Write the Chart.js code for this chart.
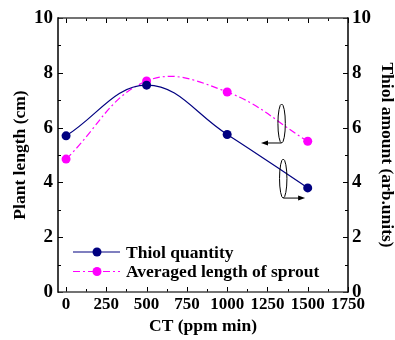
<!DOCTYPE html>
<html><head><meta charset="utf-8">
<script src="https://cdn.jsdelivr.net/npm/chart.js@4"></script>
<style>html,body{margin:0;padding:0;background:#fff}</style>
</head><body>
<canvas id="c" width="395" height="340" style="width:395px;height:340px;display:block"></canvas>
<script>
const categories = [0, 500, 1000, 1500];
const thiolQuantity = [5.7, 7.55, 5.75, 3.8];
const sproutLength = [4.85, 7.7, 7.3, 5.5];
const xTickLabels = [0, 250, 500, 750, 1000, 1250, 1500, 1750];
const yTickLabels = [0, 2, 4, 6, 8, 10];
const seriesNames = ['Thiol quantity', 'Averaged length of sprout'];

const FONT = '"Liberation Serif", "Times New Roman", serif';
const NAVY = '#000080', MAG = '#ff00ff';
const DASH = [7, 3, 2, 3];

const framePlugin = {
  id: 'frame',
  beforeDatasetsDraw(chart) {
    const {ctx, chartArea: a, scales} = chart;
    ctx.save();
    ctx.strokeStyle = '#000';
    ctx.lineWidth = 1;
    const xs = scales.x, ys = scales.y;
    const tick = (x1, y1, x2, y2) => { ctx.beginPath(); ctx.moveTo(x1, y1); ctx.lineTo(x2, y2); ctx.stroke(); };
    xTickLabels.forEach((v, i) => {
      const px = Math.round(xs.getPixelForValue(v)) + 0.5;
      tick(px, a.bottom, px, a.bottom - 5);
      tick(px, a.top, px, a.top + 5);
      if (i < xTickLabels.length - 1) {
        const m = Math.round(xs.getPixelForValue((v + xTickLabels[i + 1]) / 2)) + 0.5;
        tick(m, a.bottom, m, a.bottom - 3);
        tick(m, a.top, m, a.top + 3);
      }
    });
    yTickLabels.forEach((v, i) => {
      const py = Math.round(ys.getPixelForValue(v)) + 0.5;
      tick(a.left, py, a.left + 5, py);
      tick(a.right, py, a.right - 5, py);
      if (i < yTickLabels.length - 1) {
        const m = Math.round(ys.getPixelForValue((v + yTickLabels[i + 1]) / 2)) + 0.5;
        tick(a.left, m, a.left + 3, m);
        tick(a.right, m, a.right - 3, m);
      }
    });
    ctx.lineWidth = 1.5;
    ctx.strokeStyle = '#444';
    tick(a.left, a.top, a.right, a.top);
    tick(a.left, a.bottom, a.right, a.bottom);
    ctx.strokeStyle = '#000';
    tick(a.left, a.top - 0.75, a.left, a.bottom + 0.75);
    tick(a.right, a.top - 0.75, a.right, a.bottom + 0.75);
    ctx.restore();
  },
  afterDraw(chart) {
    const {ctx, scales} = chart;
    const xs = scales.x, ys = scales.y;
    ctx.save();
    const rows = [252, 271.5];
    chart.data.datasets.forEach((ds, i) => {
      const y = rows[i];
      ctx.strokeStyle = ds.borderColor;
      ctx.lineWidth = 1.2;
      ctx.setLineDash(ds.borderDash || []);
      ctx.beginPath(); ctx.moveTo(73, y); ctx.lineTo(120, y); ctx.stroke();
      ctx.setLineDash([]);
      ctx.fillStyle = ds.backgroundColor;
      ctx.beginPath(); ctx.arc(97, y, 4.5, 0, Math.PI * 2); ctx.fill();
      ctx.fillStyle = '#000';
      ctx.font = 'bold 17.5px ' + FONT;
      ctx.textBaseline = 'alphabetic';
      ctx.textAlign = 'left';
      ctx.fillText(ds.label, 126, y + 5.5);
    });
    ctx.strokeStyle = '#000';
    ctx.fillStyle = '#000';
    ctx.lineWidth = 1;
    const ann = [
      {x: 1338, y: 6.15, toX: 1210},
      {x: 1348, y: 4.14, toX: 1484}
    ];
    ann.forEach(a => {
      const cx = xs.getPixelForValue(a.x), cy = ys.getPixelForValue(a.y);
      const rx = 3.7, ry = 19.5;
      ctx.beginPath(); ctx.ellipse(cx, cy, rx, ry, 0, 0, Math.PI * 2); ctx.stroke();
      const by = cy + ry;
      const tx = xs.getPixelForValue(a.toX);
      const dir = tx < cx ? -1 : 1;
      ctx.beginPath(); ctx.moveTo(cx, by); ctx.lineTo(tx - dir * 5, by); ctx.stroke();
      ctx.beginPath();
      ctx.moveTo(tx, by); ctx.lineTo(tx - dir * 7, by - 2.5); ctx.lineTo(tx - dir * 7, by + 2.5); ctx.closePath(); ctx.fill();
    });
    ctx.restore();
  }
};

const tickFont = {family: FONT, size: 19, weight: 'bold'};
const titleFont = {family: FONT, size: 17.5, weight: 'bold', lineHeight: 1};

new Chart(document.getElementById('c'), {
  type: 'line',
  data: {
    datasets: [
      {
        label: seriesNames[0],
        data: categories.map((x, i) => ({x, y: thiolQuantity[i]})),
        borderColor: NAVY, backgroundColor: NAVY,
        borderWidth: 1.2, pointRadius: 4.5, pointBorderWidth: 0,
        pointBackgroundColor: NAVY, tension: 0.4, yAxisID: 'y'
      },
      {
        label: seriesNames[1],
        data: categories.map((x, i) => ({x, y: sproutLength[i]})),
        borderColor: MAG, backgroundColor: MAG,
        borderWidth: 1.2, borderDash: DASH, pointRadius: 4.5, pointBorderWidth: 0,
        pointBackgroundColor: MAG, tension: 0.4, yAxisID: 'y'
      }
    ]
  },
  options: {
    responsive: false,
    animation: false,
    devicePixelRatio: 1,
    layout: {padding: {top: 18, left: 0, right: 0, bottom: 0}},
    plugins: {legend: {display: false}, tooltip: {enabled: false}},
    scales: {
      x: {
        type: 'linear', position: 'bottom', min: -50, max: 1750,
        afterBuildTicks: s => { s.ticks = xTickLabels.map(v => ({value: v})); },
        afterFit: s => { s.height = 48; },
        ticks: {font: {family: FONT, size: 17, weight: 'bold'}, color: '#000', padding: 2, maxRotation: 0, autoSkip: false, callback: v => String(v)},
        grid: {display: false, drawTicks: false},
        border: {display: false},
        title: {display: true, text: 'CT (ppm min)', color: '#000', font: titleFont, padding: {top: 0, bottom: 5}}
      },
      y: {
        type: 'linear', position: 'left', min: 0, max: 10,
        afterBuildTicks: s => { s.ticks = yTickLabels.map(v => ({value: v})); },
        afterFit: s => { s.width = 58; },
        ticks: {font: tickFont, color: '#000', padding: 5, callback: v => String(v)},
        grid: {display: false, drawTicks: false},
        border: {display: false},
        title: {display: true, text: 'Plant length (cm)', color: '#000', font: titleFont, padding: {top: 12, bottom: 0}}
      },
      y2: {
        type: 'linear', position: 'right', min: 0, max: 10,
        afterBuildTicks: s => { s.ticks = yTickLabels.map(v => ({value: v})); },
        afterFit: s => { s.width = 47; },
        ticks: {font: tickFont, color: '#000', padding: 4, callback: v => String(v)},
        grid: {display: false, drawTicks: false},
        border: {display: false},
        title: {display: true, text: 'Thiol amount (arb.units)', color: '#000', font: titleFont, padding: {top: 0, bottom: 0}}
      }
    }
  },
  plugins: [framePlugin]
});
</script>
</body></html>
